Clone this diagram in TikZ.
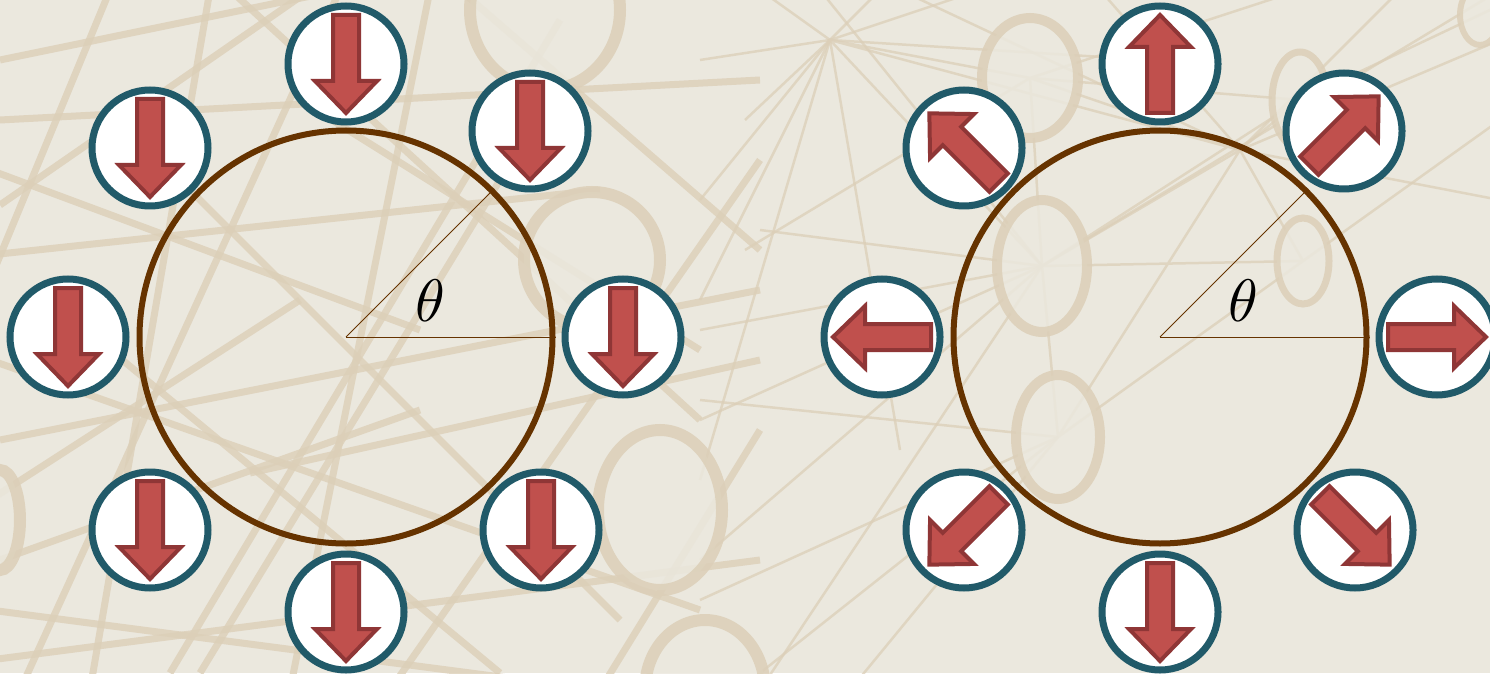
\documentclass[tikz,border=0pt]{standalone}
\definecolor{paper}{HTML}{EBE8DE}
\definecolor{web}{HTML}{DCCFB8}
\definecolor{loopc}{HTML}{663300}
\definecolor{rim}{HTML}{215A69}
\definecolor{spinfill}{HTML}{C0504D}
\definecolor{spinedge}{HTML}{8F3636}
\tikzset{
  webthick/.style={draw=web,line width=7pt,opacity=.8},
  webthin/.style={draw=web,line width=2.5pt,opacity=.75},
  webring/.style={draw=web,fill=paper,line width=12pt,opacity=.85},
  loop/.style={circle,draw=loopc,line width=6pt,minimum size=413pt,inner sep=0pt},
  site/.style={circle,draw=rim,line width=7pt,fill=white,minimum size=116pt,inner sep=0pt},
  guide/.style={draw=loopc,line width=1pt},
  anglabel/.style={inner sep=0pt,scale=6},
  pics/spinarrow/.style={code={
    \draw[fill=spinfill,draw=spinedge,line width=4pt,line join=miter]
      (-49,-13) -- (17,-13) -- (17,-31) -- (49,0) -- (17,31) -- (17,13) -- (-49,13) -- cycle;}},
}
\begin{document}
\begin{tikzpicture}[x=1pt,y=1pt]
\useasboundingbox (0,0) rectangle (1490,673);
\clip (0,0) rectangle (1490,673);
\fill[paper] (0,0) rectangle (1490,673);

% faint network texture behind the figure (drawn top-down)
\begin{scope}[yshift=673pt,yscale=-1]
  \foreach \xa/\ya/\xb/\yb in {0/60/340/-10, 0/205/310/-10, -10/255/600/190,
      0/440/760/290, 0/560/420/410, 110/-10/-10/280, 210/-10/90/690,
      20/690/340/-10, 120/120/620/620, -10/360/700/610, -10/610/600/690,
      230/-10/700/420, 430/-10/290/690, 460/-10/760/250, -10/660/760/560,
      600/690/760/430, 390/690/760/160, 0/120/760/80, -10/500/300/300,
      300/100/700/350, 50/300/500/673, 170/673/560/20, -10/170/420/330,
      250/473/760/360, 500/180/200/673}
    \draw[webthick] (\xa,\ya) -- (\xb,\yb);
  \coordinate (hA) at (830,40);
  \coordinate (hB) at (1042,266);
  \coordinate (hC) at (1240,150);
  \coordinate (hD) at (1058,437);
  \coordinate (hE) at (1303,261);
  \coordinate (hF) at (1300,100);
  \coordinate (hG) at (1030,78);
  \foreach \px/\py in {700/300, 745/120, 980/-10, 1150/60, 900/450, 700/480, 700/60,
                       760/-10, 700/200, 880/-10}
    \draw[webthin] (hA) -- (\px,\py);
  \foreach \px/\py in {700/330, 700/560, 1500/-10, 760/690, 760/230, 700/420, 820/-10}
    \draw[webthin] (hB) -- (\px,\py);
  \foreach \px/\py in {1100/-10, 1500/40, 1400/-10, 900/-10, 1500/200}
    \draw[webthin] (hC) -- (\px,\py);
  \foreach \px/\py in {700/600, 700/400, 850/690, 760/673}
    \draw[webthin] (hD) -- (\px,\py);
  \draw[webthin] (hA) -- (hB) (hA) -- (hG) (hA) -- (hC) (hB) -- (hC) (hB) -- (hE)
    (hB) -- (hD) (hB) -- (hF) (hC) -- (hF) (hC) -- (hD) (hC) -- (hE) (hD) -- (hE)
    (hG) -- (hB) (hG) -- (745,250) (hG) -- (1300,-10) (hE) -- (1500,120) (hF) -- (1490,10)
    (hG) -- (hC) (hG) -- (hF);
  \draw[webring] (545,10) ellipse [x radius=75,y radius=80];
  \draw[webring] (592,260) ellipse [x radius=68,y radius=68];
  \draw[webring] (660,510) ellipse [x radius=62,y radius=80];
  \draw[webring] (705,690) ellipse [x radius=60,y radius=70];
  \draw[webring,line width=10pt] (1030,78) ellipse [x radius=48,y radius=60];
  \draw[webring,line width=10pt] (1042,266) ellipse [x radius=45,y radius=66];
  \draw[webring,line width=10pt] (1058,437) ellipse [x radius=42,y radius=62];
  \draw[webring,line width=7pt] (1300,100) ellipse [x radius=28,y radius=48];
  \draw[webring,line width=7pt] (1303,261) ellipse [x radius=26,y radius=43];
  \draw[webring,line width=6pt] (1480,15) ellipse [x radius=20,y radius=30];
  \draw[webring] (0,520) ellipse [x radius=20,y radius=50];
\end{scope}

% ferromagnetic ring: every spin points down
\node[loop] (L) at (346,336) {};
\draw[guide] (L.center) -- (L.east);
\draw[guide] (L.center) -- (L.45);
\foreach \i/\x/\y in {1/346/609, 2/530/542, 3/623/336, 4/541/143,
                      5/346/61, 6/150/143, 7/68/336, 8/150/525}
  \node[site] (L\i) at (\x,\y) {};
\foreach \i in {1,...,8}
  \pic[rotate=-90] at (L\i.center) {spinarrow};
\node[anglabel] (tL) at (430,372) {$\theta$};

% radial (hedgehog) ring: every spin points outward
\node[loop] (R) at (1160,336) {};
\draw[guide] (R.center) -- (R.east);
\draw[guide] (R.center) -- (R.45);
\foreach \i/\x/\y in {1/1160/609, 2/1344/542, 3/1437/336, 4/1355/143,
                      5/1160/61, 6/964/143, 7/882/336, 8/964/525}
  \node[site] (R\i) at (\x,\y) {};
\foreach \i/\r in {1/90, 2/45, 3/0, 4/-45, 5/-90, 6/-135, 7/180, 8/135}
  \pic[rotate=\r] at (R\i.center) {spinarrow};
\node[anglabel] (tR) at (1243,372) {$\theta$};
\end{tikzpicture}
\end{document}
